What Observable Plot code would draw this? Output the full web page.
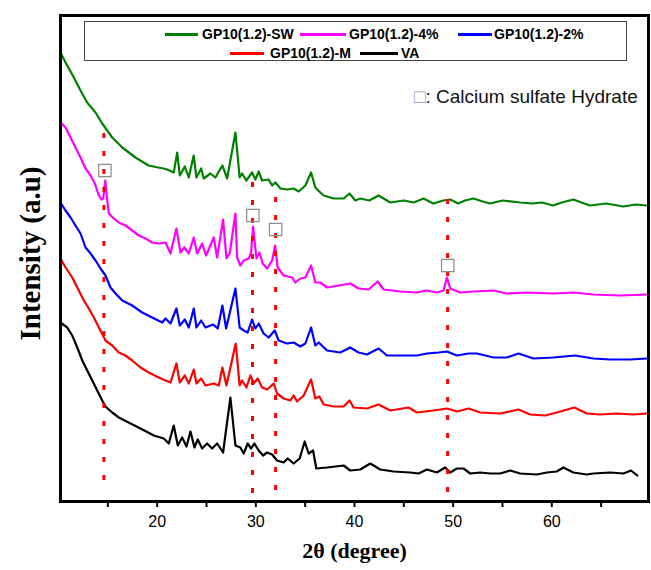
<!DOCTYPE html>
<html><head><meta charset="utf-8">
<script src="https://cdn.jsdelivr.net/npm/d3@7"></script>
<script src="https://cdn.jsdelivr.net/npm/@observablehq/plot@0.6"></script>
<style>
body{margin:0;background:#fff;}
#wrap{position:relative;width:651px;height:570px;font-family:"Liberation Sans",Arial,sans-serif;}
#legend{position:absolute;left:84px;top:21px;width:543px;height:40px;border:1px solid #444;box-sizing:border-box;}
.lt{position:absolute;font-weight:bold;font-size:14px;line-height:14px;white-space:nowrap;color:#000;}
.ls{position:absolute;height:3px;}
#note{position:absolute;left:414px;top:86px;font-size:19px;line-height:22px;white-space:nowrap;color:#111;}
#note .bx{color:#8ca0b8;}
</style></head>
<body><div id="wrap"></div>
<script>
// ---- data (2θ in degrees, intensity in arbitrary units, stacked offsets as plotted) ----
const seriesNames = ["GP10(1.2)-SW", "GP10(1.2)-4%", "GP10(1.2)-2%", "GP10(1.2)-M", "VA"];
const seriesColors = ["#008000", "#ff00ff", "#0000ff", "#ff0000", "#000000"];

const sw = [[10.2,449],[10.71,439],[11.5,425],[12.23,411],[12.9,399],[13.75,389],[14.43,378],[15.44,364],[16.46,354],[17.8,344],[19.12,336],[20.1,334],[20.64,333],[21.0,332],[21.68,329],[22.03,349],[22.29,326],[22.8,335],[23.2,324],[23.7,346],[23.98,324],[24.46,333],[24.72,323],[25.4,328],[25.9,324],[26.61,336],[27.09,323],[27.93,369],[28.36,324],[28.6,328],[29.04,321],[29.62,329],[29.95,322],[30.29,330],[30.63,321],[31.3,322],[31.65,316],[31.98,319],[32.49,313],[33.16,312],[33.83,313],[34.34,310],[35.02,316],[35.6,329],[36.03,314],[36.54,309],[36.87,306],[37.88,303],[38.9,303],[39.5,308],[40.08,301],[40.59,303],[41.5,301],[42.44,306],[43.63,299],[45.0,301],[46.0,299],[47.0,303],[47.98,298],[49.0,301],[49.7,302],[50.5,298],[51.2,301],[52.06,303],[53.0,300],[53.75,298],[55.0,301],[56.79,299],[58.0,298],[59.0,299],[60.13,296],[61.0,299],[62.19,302],[63.0,299],[63.88,296],[65.5,298],[67.25,295],[68.5,297],[69.62,296]];

const p4 = [[10.2,379],[10.71,374],[11.22,364],[11.72,354],[12.23,344],[12.74,333],[13.25,326],[13.68,318],[14.09,306],[14.36,302],[14.53,303],[14.73,321],[14.94,301],[15.1,288],[15.6,283],[16.11,279],[16.79,276],[17.47,271],[18.14,266],[18.82,263],[19.49,259],[20.16,258],[20.84,259],[21.35,248],[21.95,273],[22.36,249],[22.76,254],[23.2,248],[23.71,264],[24.05,248],[24.56,258],[24.96,246],[25.73,264],[26.08,244],[26.68,282],[27.02,243],[27.35,248],[27.93,288],[28.1,244],[28.43,236],[28.77,241],[29.28,243],[29.52,249],[29.72,275],[30.06,243],[30.36,249],[30.69,238],[31.14,233],[31.65,241],[31.95,256],[32.21,234],[32.82,226],[33.67,224],[34.0,219],[34.51,223],[35.02,224],[35.6,236],[36.03,219],[36.54,219],[37.22,214],[38.39,216],[39.57,218],[40.41,213],[41.43,212],[42.34,220],[42.95,212],[44.64,210],[46.33,209],[47.3,211],[48.35,209],[49.02,211],[49.37,224],[49.7,213],[50.71,209],[52.06,210],[54.09,211],[55.44,208],[57.47,209],[60.16,208],[62.19,209],[64.21,207],[66.92,206],[69.62,207]];

const p2 = [[10.2,299],[10.71,291],[11.22,284],[11.72,276],[12.23,268],[12.74,254],[13.25,248],[13.75,241],[14.26,233],[14.76,226],[15.27,214],[15.78,208],[16.46,201],[17.47,196],[18.48,189],[19.49,184],[20.51,179],[20.84,183],[21.35,178],[21.95,193],[22.29,176],[22.8,182],[23.2,174],[23.71,193],[23.98,174],[24.46,181],[24.89,174],[25.67,177],[26.14,173],[26.61,196],[26.99,173],[27.93,213],[28.36,174],[28.77,171],[29.17,169],[29.62,182],[29.95,173],[30.29,178],[30.79,168],[31.3,164],[31.91,171],[32.31,161],[33.16,158],[33.83,159],[34.51,155],[35.02,158],[35.6,174],[36.03,156],[36.37,159],[37.22,151],[38.56,149],[39.57,154],[40.41,149],[41.26,147],[42.44,153],[43.29,146],[44.64,146],[46.33,146],[47.34,148],[48.52,149],[49.37,150],[50.38,146],[51.56,148],[52.41,148],[54.09,144],[55.44,144],[56.62,148],[58.14,143],[60.16,144],[62.36,146],[64.21,143],[65.9,142],[67.93,142],[69.62,143]];

const m = [[10.2,243],[10.71,234],[11.39,224],[11.9,214],[12.57,201],[13.07,193],[13.58,184],[14.09,174],[14.76,161],[15.44,156],[16.11,149],[16.79,146],[17.47,141],[18.31,134],[19.15,129],[20.16,124],[20.84,121],[21.35,119],[21.95,138],[22.29,119],[22.8,126],[23.2,118],[23.71,132],[23.98,118],[24.46,123],[24.89,116],[25.73,118],[26.24,116],[26.61,134],[27.02,116],[27.96,158],[28.36,116],[28.6,121],[29.04,114],[29.45,126],[29.78,118],[30.19,123],[30.63,114],[31.14,112],[31.81,118],[32.15,108],[32.82,103],[33.5,101],[33.83,106],[34.18,100],[34.85,106],[35.6,122],[36.03,103],[36.44,105],[36.87,97],[37.88,95],[38.9,95],[39.5,101],[39.91,94],[41.26,93],[42.44,97],[43.63,91],[45.48,94],[46.33,89],[48.01,91],[49.37,93],[50.38,90],[51.56,93],[52.74,89],[54.77,88],[56.62,92],[57.8,87],[59.32,86],[60.5,89],[62.29,94],[63.54,88],[64.89,87],[66.58,88],[68.26,87],[69.62,88]];

const va = [[10.2,179],[10.88,174],[11.39,166],[11.9,154],[12.41,141],[12.91,131],[13.42,121],[13.92,111],[14.43,101],[14.76,95],[15.44,89],[16.11,84],[17.3,78],[18.31,73],[19.66,66],[20.67,63],[21.17,58],[21.68,76],[22.09,56],[22.53,64],[22.97,55],[23.37,70],[23.78,54],[24.11,62],[24.56,53],[25.06,58],[25.57,53],[26.08,58],[26.68,49],[27.42,104],[27.93,56],[28.43,54],[28.77,48],[29.17,58],[29.52,53],[29.85,58],[30.29,51],[30.73,46],[31.14,49],[31.65,47],[32.15,41],[32.82,39],[33.23,43],[33.83,38],[34.44,43],[34.95,60],[35.35,48],[35.8,51],[36.13,33],[37.22,34],[38.9,36],[39.57,31],[40.59,32],[41.6,38],[42.61,32],[43.96,30],[45.65,29],[46.5,28],[47.34,32],[48.35,29],[49.19,34],[49.7,29],[50.38,33],[51.05,33],[51.73,28],[52.74,29],[53.75,28],[54.77,28],[55.78,31],[56.79,28],[58.48,27],[59.49,29],[60.5,30],[61.17,34],[62.19,29],[63.54,27],[64.21,28],[65.9,29],[67.25,28],[68.03,31],[68.67,26]];

// marked reflections (calcium sulfate hydrate)
const refTheta = [14.6, 29.66, 32.0, 49.44];
const refLow = [21, 8, 11, 9];
const refHigh = [378, 327, 311, 308];
const boxTheta = [14.7, 29.7, 32.0, 49.45];
const boxI = [331, 286, 272, 236];

const xTicks = [15, 20, 25, 30, 35, 40, 45, 50, 55, 60, 65];
const xTickLabels = [20, 30, 40, 50, 60];

// ---- build ----
const allSeries = [sw, p4, p2, m, va];
const rows = allSeries.flatMap((s, i) => s.map(([t, v]) => ({series: seriesNames[i], t, v})));
const refs = refTheta.map((t, i) => ({t, lo: refLow[i], hi: refHigh[i]}));
const boxes = boxTheta.map((t, i) => ({t, v: boxI[i]}));

const chart = Plot.plot({
  width: 651, height: 570,
  marginLeft: 60, marginRight: 3, marginTop: 15, marginBottom: 69,
  x: {domain: [10.2, 69.8]},
  y: {domain: [0, 486], axis: null},
  style: {fontFamily: "'Liberation Sans', Arial, sans-serif", fontSize: "16px", color: "#000", background: "#fff"},
  marks: [
    ...seriesNames.map((n, i) => Plot.line(rows.filter(d => d.series === n), {x: "t", y: "v", stroke: seriesColors[i], strokeWidth: 2.2, curve: "linear"})),
    Plot.ruleX(refs, {x: "t", y1: "lo", y2: "hi", stroke: "#ff0000", strokeWidth: 3, strokeDasharray: "5,13"}),
    Plot.dot(boxes, {x: "t", y: "v", symbol: "square", r: 7, stroke: "#8c8c8c", strokeWidth: 1.2, fill: "none"}),
    Plot.frame({stroke: "#000", strokeWidth: 3}),
    Plot.axisX({ticks: xTicks, tickFormat: d => xTickLabels.includes(d) ? String(d) : "", tickSize: 6, tickPadding: 8, strokeWidth: 2, fontSize: 16, label: null}),
    Plot.text(["Intensity (a.u)"], {frameAnchor: "left", dx: -30, dy: -5, rotate: -90, textAnchor: "middle", fontSize: 29, fontWeight: "bold", fontFamily: "'Liberation Serif', 'Times New Roman', serif"}),
    Plot.text(["2θ (degree)"], {frameAnchor: "bottom", dy: 56, fontSize: 22, fontWeight: "bold", fontFamily: "'Liberation Serif', 'Times New Roman', serif"})
  ]
});
const wrap = document.getElementById("wrap");
wrap.appendChild(chart);

// legend overlay (inside the frame, as in the original)
const legend = document.createElement("div");
legend.id = "legend";
wrap.appendChild(legend);
const legendPos = [
  {lx: 165, lw: 33, tx: 202, y: 34},
  {lx: 300, lw: 46, tx: 349, y: 34},
  {lx: 458, lw: 34, tx: 494, y: 34},
  {lx: 230, lw: 34, tx: 270, y: 53},
  {lx: 360, lw: 38, tx: 401, y: 53}
];
seriesNames.forEach((n, i) => {
  const p = legendPos[i];
  const sw_ = document.createElement("div");
  sw_.className = "ls";
  sw_.style.cssText = `left:${p.lx}px;top:${p.y - 1.5}px;width:${p.lw}px;background:${seriesColors[i]}`;
  wrap.appendChild(sw_);
  const t = document.createElement("div");
  t.className = "lt";
  t.style.cssText = `left:${p.tx}px;top:${p.y - 7}px`;
  t.textContent = n;
  wrap.appendChild(t);
});
const note = document.createElement("div");
note.id = "note";
note.innerHTML = '<span class="bx">□</span>: Calcium sulfate Hydrate';
wrap.appendChild(note);
</script>
</body></html>
